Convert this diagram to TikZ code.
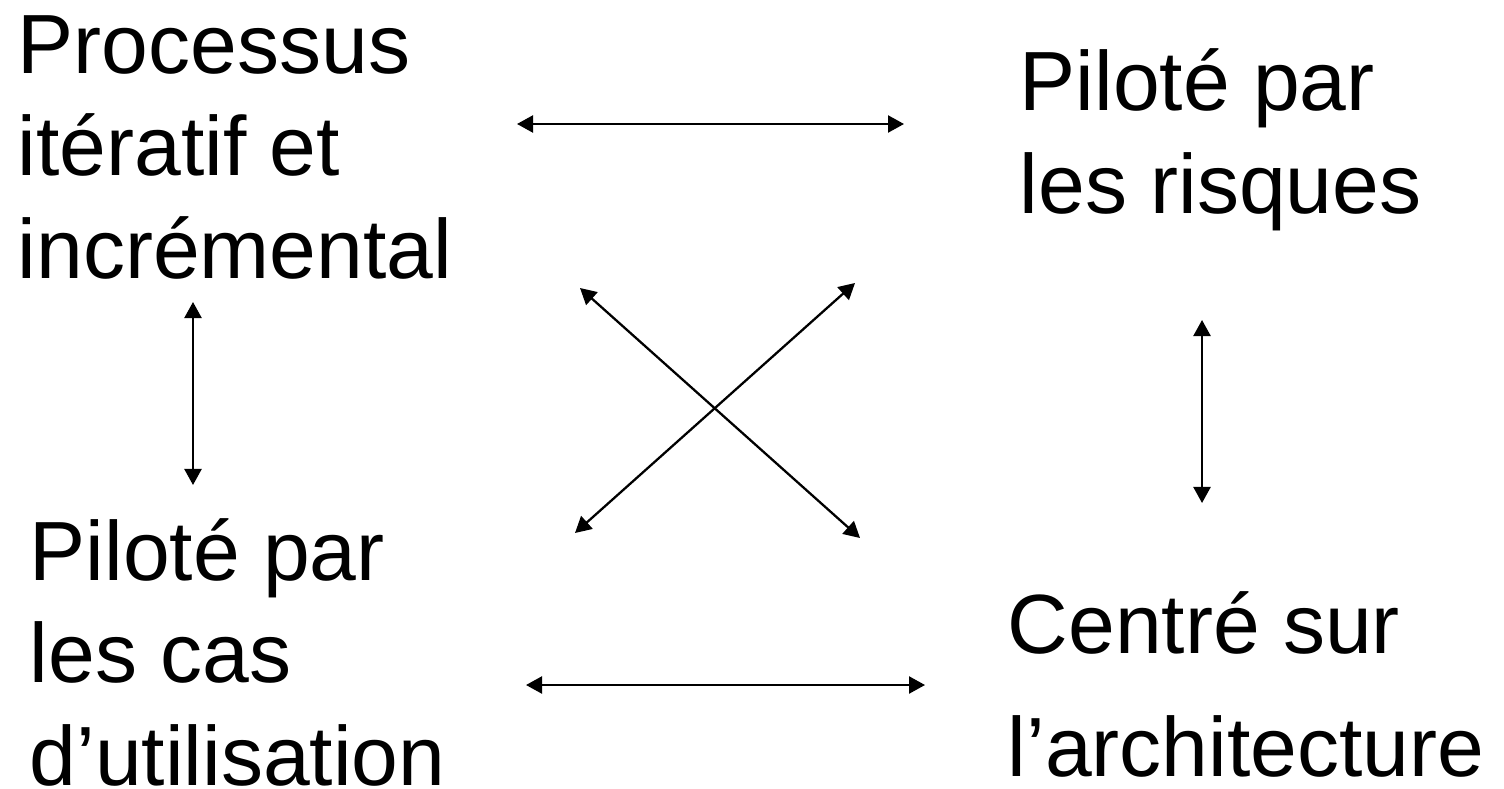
\documentclass[tikz,border=0pt]{standalone}
\usepackage{fontspec}
\setmainfont{Liberation Sans}
\usetikzlibrary{arrows.meta}
\tikzset{
  lbl/.style={anchor=base west, inner sep=0pt, align=left,
    font=\fontsize{23.9pt}{29.1pt}\selectfont},
  biarrow/.style={line width=0.65pt, {Triangle[length=0.16cm,width=0.17cm]}-{Triangle[length=0.16cm,width=0.17cm]}}
}
\begin{document}
\begin{tikzpicture}[x=0.01cm,y=-0.01cm]
\useasboundingbox (0,0) rectangle (1504,788);
\node[lbl] (proc) at (17,278) {Processus\\itératif et\\incrémental};
\node[lbl] (risk) at (1019,213) {Piloté par\\les risques};
\node[lbl] (cas) at (29,785) {Piloté par\\les cas\\d’utilisation};
\node[lbl] (arch) at (1007,776) {Centré sur\\[0.2cm]l’architecture};
\coordinate (t1) at (517,124); \coordinate (t2) at (904,124);
\coordinate (b1) at (526,685); \coordinate (b2) at (925,685);
\coordinate (l1) at (193,302); \coordinate (l2) at (193,485);
\coordinate (r1) at (1202,320); \coordinate (r2) at (1202,503);
\coordinate (d1) at (580,288); \coordinate (d2) at (860,538);
\coordinate (e1) at (575,533); \coordinate (e2) at (855,283);
\draw[biarrow] (t1) -- (t2);
\draw[biarrow] (b1) -- (b2);
\draw[biarrow] (l1) -- (l2);
\draw[biarrow] (r1) -- (r2);
\draw[biarrow] (d1) -- (d2);
\draw[biarrow] (e1) -- (e2);
\end{tikzpicture}
\end{document}
